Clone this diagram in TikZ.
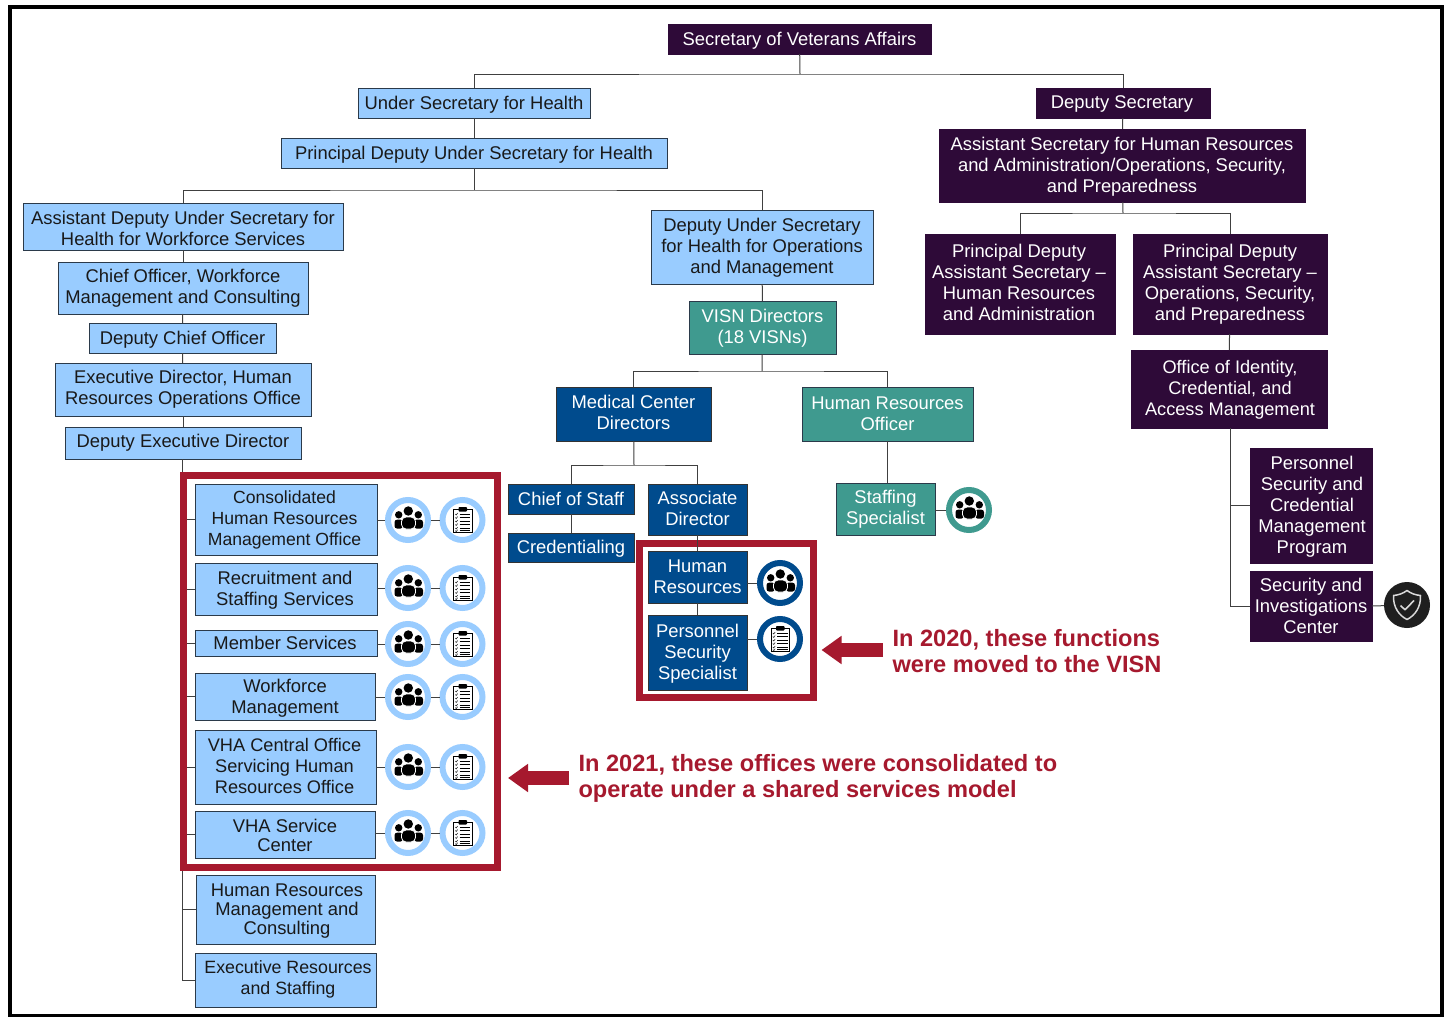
\documentclass[tikz,border=0pt]{standalone}
\usepackage{fontspec}
\setmainfont{Liberation Sans}
\usetikzlibrary{arrows.meta,calc}
\definecolor{lb}{HTML}{99CCFF}
\definecolor{db}{HTML}{004B8D}
\definecolor{pu}{HTML}{2E0A38}
\definecolor{te}{HTML}{3F9A8F}
\definecolor{rd}{HTML}{A6192E}
\definecolor{ed}{HTML}{2B3A4A}
\definecolor{ln}{HTML}{404040}
\newcommand\placed[1]{\raisebox{\dimexpr -\tyv pt-5.9pt\relax}[0pt][0pt]{\makebox[0pt][c]{\hspace*{\dimexpr \txv pt*2\relax}\begin{tabular}{@{}c@{}}#1\end{tabular}}}}
\newcommand\bx[7]{\node[#1,minimum width={(#5-#3)*1pt},minimum height={(#6-#4)*1pt}] (#2) at ({(#3+#5)/2},{(#4+#6)/2}) {\placed{#7}};}
\newcommand\ic[4]{\node[ring,draw=#1] (#2) at (#3,#4) {};}
\tikzset{
 tx/.store in=\txv, ty/.store in=\tyv, fz/.store in=\fzv, ld/.store in=\ldv,
 tx=0, ty=0, fz=18.4, ld=21,
 base/.style={inner sep=0pt,outer sep=0pt,line width=1pt,font=\fontsize{\fzv}{\ldv}\selectfont},
 lbox/.style={base,fill=lb,draw=ed,text=black!90},
 dbox/.style={base,fill=db,draw=black!80,text=white},
 pbox/.style={base,fill=pu,draw=pu,text=white},
 tbox/.style={base,fill=te,draw=ed,text=white},
 conn/.style={draw=ln,line width=1pt},
 ring/.style={circle,inner sep=0pt,minimum size=40pt,line width=6pt,fill=white},
 redframe/.style={draw=rd,line width=7pt,inner sep=0pt},
 bigarrow/.style={draw=rd,line width=14pt,-{Triangle[length=20pt,width=27pt,fill=rd]}},
 note/.style={text=rd,anchor=west,align=left,font=\fontsize{23.6}{26.7}\selectfont\bfseries},
 people/.pic={
  \fill[black] (0.3,-9) circle (4.7);
  \fill[black] (-9.3,-5.2) circle (3.7);
  \fill[black] (10.3,-5.2) circle (3.7);
  \fill[black,rounded corners=2.5pt] (-13.5,8.5) -- (-13.5,-0.3) -- (-5,-0.3) -- (-5,8.5) -- cycle;
  \fill[black,rounded corners=2.5pt] (6,8.5) -- (6,-0.3) -- (15,-0.3) -- (15,8.5) -- cycle;
  \fill[black,draw=white,line width=.8pt,rounded corners=4.5pt] (-6.5,9) -- (-6.5,-3) -- (7.5,-3) -- (7.5,9) -- cycle;
 },
 clip board/.pic={
  \draw[black,fill=white,line width=1pt] (-9,-10.5) rectangle (9.5,12.5);
  \fill[black,rounded corners=.8pt] (-4,-13) rectangle (4.5,-8.5);
  \foreach \yy in {-6,-2.5,1,4.5,8,10.7}{
    \draw[black,line width=.8pt] (-3,\yy) -- (7.5,\yy);
    \draw[black!80,line width=.6pt] (-7.2,\yy) -- (-6.2,\yy+.9) -- (-4.8,\yy-1);
  }
 },
 shield/.pic={
  \draw[white!85!black,line width=1.5pt,line join=round,fill=black!88] (0,-14.5) .. controls (4,-11.5) and (8.5,-10) .. (13.5,-9.5) .. controls (14,2) and (8,10.5) .. (0,14.5) .. controls (-8,10.5) and (-14,2) .. (-13.5,-9.5) .. controls (-8.5,-10) and (-4,-11.5) .. (0,-14.5) -- cycle;
  \draw[white!85!black,line width=1.6pt,line join=round] (-6.5,0.5) -- (-2,4.8) -- (7,-4.5);
 },
}
\begin{document}
\begin{tikzpicture}[x=1pt,y=-1pt]
\useasboundingbox (0,0) rectangle (1449,1017);
\fill[white] (0,0) rectangle (1449,1017);
\draw[black,line width=4pt] (10,7) rectangle (1442,1016);

\coordinate (bA) at (800,74);
\coordinate (bB) at (474,190);
\coordinate (bC) at (1123,213);
\coordinate (bD) at (762,371);
\coordinate (bE) at (634,465);
\coordinate (tL) at (182,459);
\coordinate (tR) at (1230,428);

\bx{pbox,ty=1}{sec}{668}{24}{931}{54}{Secretary of Veterans Affairs}
\bx{lbox,ty=.7}{ush}{358}{88}{590}{118}{Under Secretary for Health}
\bx{pbox,tx=-1}{dep}{1036}{88}{1210}{118}{Deputy Secretary}
\bx{lbox,ty=.5}{pdu}{281}{138}{667}{168}{Principal Deputy Under Secretary for Health}
\bx{pbox,ty=.5}{asa}{939}{129}{1305}{202}{Assistant Secretary for Human Resources\\and Administration/Operations, Security,\\and Preparedness}
\bx{pbox,tx=-1,ty=-1}{pd1}{925}{234}{1115}{334}{Principal Deputy\\Assistant Secretary –\\Human Resources\\and Administration}
\bx{pbox,ty=-1}{pd2}{1133}{234}{1327}{334}{Principal Deputy\\Assistant Secretary –\\Operations, Security,\\and Preparedness}
\bx{pbox,tx=1,fz=18.2}{oid}{1131}{350}{1327}{428}{Office of Identity,\\Credential, and\\Access Management}
\bx{pbox,tx=1}{psc}{1250}{448}{1372}{563}{Personnel\\Security and\\Credential\\Management\\Program}
\bx{pbox,ty=1}{sic}{1250}{571}{1372}{641}{Security and\\Investigations\\Center}

\bx{lbox,ty=2.5}{adu}{23}{203}{343}{250}{Assistant Deputy Under Secretary for\\Health for Workforce Services}
\bx{lbox,ty=-1}{cho}{58}{262}{308}{314}{Chief Officer, Workforce\\Management and Consulting}
\bx{lbox,ty=1}{dco}{89}{323}{276}{353}{Deputy Chief Officer}
\bx{lbox,ty=-1}{exd}{55}{363}{311}{416}{Executive Director, Human\\Resources Operations Office}
\bx{lbox,ty=-1}{ded}{65}{427}{301}{459}{Deputy Executive Director}
\bx{lbox,tx=-1.5,fz=17.6,ty=-1}{con}{195}{484}{377}{555}{Consolidated\\Human Resources\\Management Office}
\bx{lbox,tx=-1}{rec}{195}{563}{377}{615}{Recruitment and\\Staffing Services}
\bx{lbox,tx=-1,ty=1}{mem}{195}{630}{377}{656}{Member Services}
\bx{lbox,ty=.5,ld=21.5}{wfm}{195}{673}{375}{720}{Workforce\\Management}
\bx{lbox,tx=-1,fz=18.2}{vco}{195}{730}{376}{804}{VHA Central Office\\Servicing Human\\Resources Office}
\bx{lbox,ld=18.6,ty=2}{vsc}{195}{811}{375}{858}{VHA Service\\Center}
\bx{lbox,ld=18.6,tx=1.5,ty=1}{hrm}{196}{875}{375}{944}{Human Resources\\Management and\\Consulting}
\bx{lbox,fz=17.8,tx=2.5,ty=-2}{ers}{195}{953}{376}{1007}{Executive Resources\\and Staffing}

\bx{lbox}{dus}{651}{210}{873}{284}{Deputy Under Secretary\\for Health for Operations\\and Management}
\bx{tbox}{vis}{689}{301}{836}{354}{VISN Directors\\(18 VISNs)}
\bx{dbox,ty=-.5}{mcd}{556}{387}{711}{441}{Medical Center\\Directors}
\bx{tbox}{hro}{802}{387}{973}{441}{Human Resources\\Officer}
\bx{tbox,ty=-1}{sta}{836}{483}{935}{535}{Staffing\\Specialist}
\bx{dbox,ty=1}{cos}{508}{484}{634}{514}{Chief of Staff}
\bx{dbox}{cre}{508}{533}{634}{562}{Credentialing}
\bx{dbox}{aso}{648}{484}{747}{535}{Associate\\Director}
\bx{dbox}{hrs}{648}{551}{747}{603}{Human\\Resources}
\bx{dbox}{pss}{648}{615}{747}{690}{Personnel\\Security\\Specialist}

\foreach \nm/\yy in {a/520,b/588,c/644,d/697,e/767,f/833}{
  \ic{lb}{p\nm}{408}{\yy}
  \ic{lb}{q\nm}{462.5}{\yy}
  \pic at (p\nm.center) {people};
  \pic at (q\nm.center) {clip board};
}
\ic{te}{pst}{969}{510}\pic at (pst.center) {people};
\ic{db}{phr}{780}{583}\pic at (phr.center) {people};
\ic{db}{qps}{780}{639}\pic at (qps.center) {clip board};
\node[circle,fill=black!88,minimum size=46pt,inner sep=0pt] (shd) at (1407,605) {};
\pic at (shd.center) {shield};

\draw[conn] (sec) -- (bA);
\draw[conn] (ush.north) |- (bA) -| (dep.north);
\draw[conn] (ush) -- (pdu);
\draw[conn] (pdu) -- (bB);
\draw[conn] (adu.north) |- (bB) -| (dus.north);
\draw[conn] (adu) -- (cho);
\draw[conn] (cho) -- (dco);
\draw[conn] (dco) -- (exd);
\draw[conn] (exd) -- (ded);
\draw[conn] (dep) -- (asa);
\draw[conn] (asa) -- (bC);
\draw[conn] (pd1.north) |- (bC) -| (pd2.north);
\draw[conn] (pd2) -- (oid);
\draw[conn] (dus) -- (vis);
\draw[conn] (vis) -- (bD);
\draw[conn] (mcd.north) |- (bD) -| (hro.north);
\draw[conn] (hro) -- (sta.north -| hro);
\draw[conn] (mcd) -- (bE);
\draw[conn] (cos.north) |- (bE) -| (aso.north);
\draw[conn] (cos) -- (cre);
\draw[conn] (tR) |- (psc.west);
\draw[conn] (tR) |- (sic.west);
\draw[conn] (sic.east) -- (shd);
\draw[conn] (sta.east |- pst.west) -- (pst.west);

\draw[conn] (tL) |- (ers.west);
\foreach \bb in {con,rec,mem,wfm,vco,vsc,hrm}{ \draw[conn] (\bb.west -| tL) -- (\bb.west); }
\foreach \bb/\nm in {con/a,rec/b,mem/c,wfm/d,vco/e,vsc/f}{
  \draw[conn] (p\nm.west -| \bb.east) -- (p\nm.west);
  \draw[conn] (p\nm.east) -- (q\nm.west);
}

\node[redframe,minimum width=314pt,minimum height=392pt] (rf1) at (340.5,671) {};
\node[redframe,minimum width=174pt,minimum height=154pt] (rf2) at (726,620.5) {};

\draw[conn] (aso) -- (hrs);
\draw[conn] (hrs) -- (pss);
\draw[conn] (phr.west -| hrs.east) -- (phr.west);
\draw[conn] (qps.west -| pss.east) -- (qps.west);

\node[note] (n1) at (889,651) {In 2020, these functions\\were moved to the VISN};
\node[note] (n2) at (575,778.5) {In 2021, these offices were consolidated to\\operate under a shared services model};
\coordinate (a1s) at (883,650);
\coordinate (a2s) at (569,778);
\coordinate (a1t) at ($(rf2.east |- a1s)+(5,0)$);
\coordinate (a2t) at ($(rf1.east |- a2s)+(7,0)$);
\draw[bigarrow] (a1s) -- (a1t);
\draw[bigarrow] (a2s) -- (a2t);
\end{tikzpicture}
\end{document}
